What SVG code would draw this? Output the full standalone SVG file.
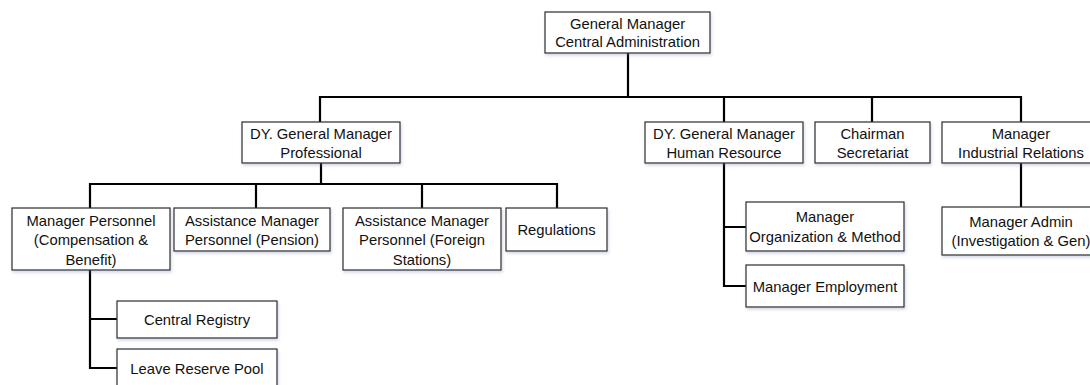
<svg xmlns="http://www.w3.org/2000/svg" width="1090" height="385" viewBox="0 0 1090 385">
<defs>
<filter id="sh" x="-10%" y="-20%" width="130%" height="150%">
<feDropShadow dx="1" dy="2" stdDeviation="1.5" flood-color="#6b7fa8" flood-opacity="0.3"/>
</filter>
<style>
.box{fill:#fff;stroke:#2b2b2b;stroke-width:1.2;filter:url(#sh)}
.t{font-family:"Liberation Sans",Arial,sans-serif;font-size:14.8px;fill:#111;text-anchor:middle}
.c{fill:none;stroke:#000;stroke-width:2.2}
</style>
</defs>
<rect width="1090" height="385" fill="#fff"/>
<g id="connectors">
<path class="c" d="M628,53 V97 M320,97 H1021 M320,96 V122 M724,96 V122 M872,96 V122 M1021,96 V122"/>
<path class="c" d="M321,163 V184 M90,184 H557 M90,183 V208 M256,183 V208 M422,183 V208 M557,183 V208"/>
<path class="c" d="M90,270 V368 H117 M90,319 H117"/>
<path class="c" d="M724,163 V286 H746 M724,227 H746"/>
<path class="c" d="M1021,163 V207"/>
</g>
<g id="gm">
<rect class="box" x="545" y="12" width="165" height="41"/>
<text class="t" x="627.5" y="28.5">General Manager</text>
<text class="t" x="627.5" y="47">Central Administration</text>
</g>
<g id="dygm-prof">
<rect class="box" x="242" y="122" width="158" height="41"/>
<text class="t" x="321" y="138.5">DY. General Manager</text>
<text class="t" x="321" y="157.5">Professional</text>
</g>
<g id="dygm-hr">
<rect class="box" x="645" y="122" width="158" height="41"/>
<text class="t" x="724" y="138.5">DY. General Manager</text>
<text class="t" x="724" y="157.5">Human Resource</text>
</g>
<g id="chairman">
<rect class="box" x="815" y="122" width="115" height="41"/>
<text class="t" x="872.5" y="138.5">Chairman</text>
<text class="t" x="872.5" y="157.5">Secretariat</text>
</g>
<g id="mgr-ir">
<rect class="box" x="942" y="122" width="160" height="41"/>
<text class="t" x="1021" y="138.5">Manager</text>
<text class="t" x="1021" y="157.5">Industrial Relations</text>
</g>
<g id="mgr-personnel">
<rect class="box" x="12" y="208" width="158" height="62"/>
<text class="t" x="91" y="225.5">Manager Personnel</text>
<text class="t" x="91" y="245">(Compensation &amp;</text>
<text class="t" x="91" y="264.5">Benefit)</text>
</g>
<g id="asst-pension">
<rect class="box" x="174" y="208" width="156" height="43"/>
<text class="t" x="252" y="225.5">Assistance Manager</text>
<text class="t" x="252" y="245">Personnel (Pension)</text>
</g>
<g id="asst-foreign">
<rect class="box" x="343" y="208" width="158" height="62"/>
<text class="t" x="422" y="225.5">Assistance Manager</text>
<text class="t" x="422" y="245">Personnel (Foreign</text>
<text class="t" x="422" y="264.5">Stations)</text>
</g>
<g id="regulations">
<rect class="box" x="506" y="208" width="101" height="43"/>
<text class="t" x="556.5" y="235">Regulations</text>
</g>
<g id="central-registry">
<rect class="box" x="117" y="301" width="160" height="37"/>
<text class="t" x="197" y="325">Central Registry</text>
</g>
<g id="leave-reserve">
<rect class="box" x="117" y="349" width="160" height="42"/>
<text class="t" x="197" y="373.5">Leave Reserve Pool</text>
</g>
<g id="mgr-om">
<rect class="box" x="746" y="202" width="158" height="49"/>
<text class="t" x="825" y="222">Manager</text>
<text class="t" x="825" y="241.5">Organization &amp; Method</text>
</g>
<g id="mgr-employment">
<rect class="box" x="746" y="265" width="158" height="42"/>
<text class="t" x="825" y="291.5">Manager Employment</text>
</g>
<g id="mgr-admin">
<rect class="box" x="942" y="207" width="160" height="48"/>
<text class="t" x="1021" y="226.5">Manager Admin</text>
<text class="t" x="1021" y="246">(Investigation &amp; Gen)</text>
</g>
</svg>
